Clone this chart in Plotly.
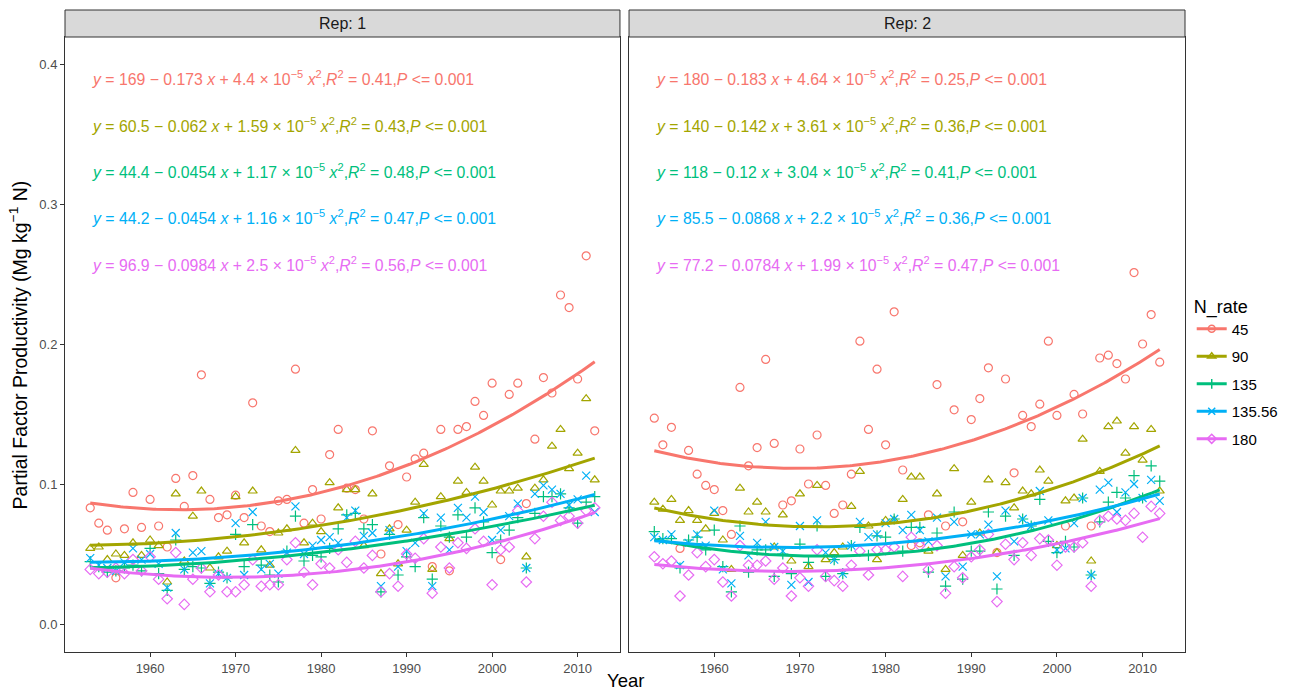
import numpy as np
import plotly.graph_objects as go

# ---- data -------------------------------------------------------------
years = list(range(1953, 2013))
n_rates = ["45", "90", "135", "135.56", "180"]
colors = ["#F8766D", "#A3A500", "#00BF7D", "#00B0F6", "#E76BF3"]
symbols = ["circle-open", "triangle-up-open", "cross-thin-open", "x-thin-open", "diamond-open"]

rep1_45 = [0.083, 0.072, 0.067, 0.033, 0.068, 0.094, 0.069, 0.089, 0.070, 0.055,
           0.104, 0.084, 0.106, 0.178, 0.089, 0.076, 0.078, 0.092, 0.076, 0.158,
           0.070, 0.066, 0.088, 0.089, 0.182, 0.072, 0.096, 0.075, 0.121, 0.139,
           0.097, 0.096, 0.075, 0.138, 0.050, 0.113, 0.071, 0.105, 0.118, 0.122,
           0.041, 0.139, 0.038, 0.139, 0.141, 0.159, 0.149, 0.172, 0.046, 0.164,
           0.172, 0.086, 0.132, 0.176, 0.165, 0.235, 0.226, 0.175, 0.263, 0.138]
rep1_90 = [0.054, 0.055, 0.046, 0.050, 0.049, 0.058, 0.049, 0.060, 0.056, 0.030,
           0.093, 0.045, 0.077, 0.095, 0.040, 0.048, 0.052, 0.091, 0.058, 0.095,
           0.053, 0.042, 0.065, 0.068, 0.124, 0.058, 0.072, 0.066, 0.101, 0.083,
           0.096, 0.096, 0.056, 0.093, 0.036, 0.068, 0.043, 0.067, 0.087, 0.114,
           0.039, 0.091, 0.061, 0.102, 0.094, 0.112, 0.102, 0.085, 0.095, 0.095,
           0.097, 0.048, 0.097, 0.103, 0.127, 0.139, 0.111, 0.122, 0.161, 0.103]
rep1_135 = [0.0445, 0.041, 0.037, 0.038, 0.040, 0.042, 0.038, 0.054, 0.036, 0.024,
            0.060, 0.039, 0.041, 0.040, 0.029, 0.037, 0.033, 0.064, 0.041, 0.071,
            0.042, 0.035, 0.030, 0.052, 0.077, 0.045, 0.049, 0.048, 0.054, 0.068,
            0.078, 0.079, 0.068, 0.071, 0.023, 0.064, 0.035, 0.048, 0.041, 0.076,
            0.032, 0.070, 0.062, 0.078, 0.062, 0.083, 0.073, 0.051, 0.060, 0.067,
            0.076, 0.040, 0.079, 0.091, 0.091, 0.093, 0.083, 0.072, 0.087, 0.091]
rep1_13556 = [0.047, 0.042, 0.040, 0.038, 0.044, 0.054, 0.046, 0.050, 0.043, 0.026,
              0.065, 0.039, 0.051, 0.052, 0.029, 0.036, 0.033, 0.072, 0.035, 0.080,
              0.039, 0.043, 0.036, 0.051, 0.084, 0.050, 0.056, 0.060, 0.062, 0.058,
              0.076, 0.081, 0.063, 0.065, 0.027, 0.067, 0.041, 0.052, 0.058, 0.079,
              0.027, 0.076, 0.053, 0.083, 0.076, 0.091, 0.080, 0.060, 0.067, 0.077,
              0.086, 0.040, 0.093, 0.099, 0.096, 0.093, 0.085, 0.089, 0.106, 0.080]
rep1_180 = [0.039, 0.036, 0.037, 0.040, 0.036, 0.046, 0.038, 0.048, 0.032, 0.018,
            0.051, 0.014, 0.032, 0.040, 0.023, 0.035, 0.023, 0.023, 0.028, 0.046,
            0.027, 0.028, 0.028, 0.046, 0.058, 0.037, 0.028, 0.043, 0.040, 0.053,
            0.044, 0.059, 0.040, 0.049, 0.023, 0.036, 0.027, 0.050, 0.047, 0.061,
            0.022, 0.055, 0.040, 0.058, 0.054, 0.068, 0.059, 0.028, 0.053, 0.055,
            0.081, 0.030, 0.061, 0.077, 0.087, 0.074, 0.077, 0.072, 0.081, 0.083]

rep2_45 = [0.147, 0.128, 0.1405, 0.054, 0.124, 0.107, 0.099, 0.096, 0.081, 0.064,
           0.169, 0.113, 0.126, 0.189, 0.129, 0.085, 0.088, 0.125, 0.100, 0.135,
           0.099, 0.079, 0.085, 0.107, 0.202, 0.139, 0.182, 0.128, 0.223, 0.110,
           0.056, 0.058, 0.078, 0.171, 0.070, 0.153, 0.073, 0.146, 0.161, 0.183,
           0.051, 0.175, 0.108, 0.149, 0.141, 0.157, 0.202, 0.149, 0.070, 0.164,
           0.150, 0.070, 0.190, 0.192, 0.186, 0.175, 0.251, 0.200, 0.221, 0.187]
rep2_90 = [0.087, 0.082, 0.089, 0.074, 0.081, 0.074, 0.068, 0.079, 0.060, 0.039,
           0.097, 0.080, 0.087, 0.080, 0.055, 0.078, 0.045, 0.093, 0.041, 0.099,
           0.046, 0.051, 0.055, 0.084, 0.109, 0.070, 0.046, 0.074, 0.074, 0.089,
           0.105, 0.105, 0.052, 0.093, 0.039, 0.111, 0.049, 0.087, 0.065, 0.103,
           0.051, 0.101, 0.083, 0.095, 0.093, 0.110, 0.102, 0.056, 0.088, 0.090,
           0.132, 0.045, 0.109, 0.141, 0.145, 0.122, 0.141, 0.117, 0.139, 0.095]
rep2_135 = [0.066, 0.061, 0.061, 0.040, 0.060, 0.062, 0.053, 0.067, 0.041, 0.023,
            0.070, 0.037, 0.053, 0.053, 0.034, 0.050, 0.036, 0.057, 0.044, 0.070,
            0.034, 0.046, 0.036, 0.056, 0.069, 0.049, 0.063, 0.062, 0.075, 0.052,
            0.069, 0.069, 0.037, 0.065, 0.027, 0.080, 0.032, 0.052, 0.052, 0.080,
            0.025, 0.077, 0.049, 0.075, 0.070, 0.089, 0.059, 0.051, 0.059, 0.055,
            0.090, 0.035, 0.073, 0.087, 0.094, 0.090, 0.106, 0.090, 0.113, 0.102]
rep2_13556 = [0.062, 0.060, 0.064, 0.042, 0.058, 0.064, 0.056, 0.081, 0.039, 0.029,
              0.063, 0.049, 0.058, 0.073, 0.055, 0.052, 0.028, 0.070, 0.030, 0.074,
              0.051, 0.046, 0.036, 0.056, 0.073, 0.062, 0.064, 0.072, 0.075, 0.067,
              0.078, 0.067, 0.059, 0.076, 0.034, 0.073, 0.041, 0.064, 0.064, 0.071,
              0.034, 0.081, 0.059, 0.075, 0.070, 0.095, 0.074, 0.053, 0.054, 0.072,
              0.090, 0.035, 0.096, 0.101, 0.080, 0.094, 0.100, 0.090, 0.103, 0.088]
rep2_180 = [0.048, 0.043, 0.045, 0.020, 0.035, 0.051, 0.041, 0.046, 0.030, 0.020,
            0.056, 0.042, 0.042, 0.045, 0.032, 0.040, 0.020, 0.033, 0.027, 0.053,
            0.034, 0.031, 0.027, 0.042, 0.052, 0.035, 0.053, 0.053, 0.055, 0.034,
            0.062, 0.056, 0.039, 0.056, 0.022, 0.041, 0.033, 0.048, 0.053, 0.064,
            0.016, 0.057, 0.046, 0.058, 0.049, 0.061, 0.060, 0.042, 0.055, 0.055,
            0.058, 0.027, 0.074, 0.077, 0.075, 0.074, 0.079, 0.062, 0.084, 0.079]

rep1_series = [rep1_45, rep1_90, rep1_135, rep1_13556, rep1_180]
rep2_series = [rep2_45, rep2_90, rep2_135, rep2_13556, rep2_180]

rep1_eq = [
    ("169", "0.173", "4.4", "0.41"),
    ("60.5", "0.062", "1.59", "0.43"),
    ("44.4", "0.0454", "1.17", "0.48"),
    ("44.2", "0.0454", "1.16", "0.47"),
    ("96.9", "0.0984", "2.5", "0.56"),
]
rep2_eq = [
    ("180", "0.183", "4.64", "0.25"),
    ("140", "0.142", "3.61", "0.36"),
    ("118", "0.12", "3.04", "0.41"),
    ("85.5", "0.0868", "2.2", "0.36"),
    ("77.2", "0.0784", "1.99", "0.47"),
]
eq_y = [0.390, 0.3565, 0.3235, 0.2905, 0.257]

FONT = "Liberation Sans"

# ---- figure -------------------------------------------------------------
fig = go.Figure()
panels = [("x", "y", rep1_series, rep1_eq), ("x2", "y2", rep2_series, rep2_eq)]
yr = np.array(years, dtype=float)
xs = np.linspace(yr.min(), yr.max(), 200)

for xa, ya, series, eqs in panels:
    for i, vals in enumerate(series):
        c = colors[i]
        fig.add_trace(go.Scatter(
            x=years, y=vals, mode="markers", xaxis=xa, yaxis=ya, showlegend=False,
            marker=dict(symbol=symbols[i], color=c, size=8,
                        line=dict(color=c, width=1.2)),
            hoverinfo="skip"))
    for i, vals in enumerate(series):
        # quadratic least-squares trend per N rate
        coef = np.polyfit(yr - 1982.5, np.array(vals), 2)
        fig.add_trace(go.Scatter(
            x=xs, y=np.polyval(coef, xs - 1982.5), mode="lines", xaxis=xa, yaxis=ya,
            showlegend=False, line=dict(color=colors[i], width=3), hoverinfo="skip"))
    for i, (b0, b1, b2, r2) in enumerate(eqs):
        txt = (f"<i>y</i> = {b0} \u2212 {b1} <i>x</i> + {b2} \u00d7 10<sup>\u22125</sup> "
               f"<i>x</i><sup>2</sup>,<i>R</i><sup>2</sup> = {r2},<i>P</i> &lt;= 0.001")
        fig.add_annotation(x=1953, y=eq_y[i], xref=xa, yref=ya, text=txt,
                           showarrow=False, xanchor="left", yanchor="middle",
                           font=dict(color=colors[i], size=15.8, family=FONT))

# legend keys
for i, name in enumerate(n_rates):
    fig.add_trace(go.Scatter(
        x=[None], y=[None], mode="lines+markers", name=name, legendgroup=name,
        line=dict(color=colors[i], width=3),
        marker=dict(symbol=symbols[i], color=colors[i], size=7,
                    line=dict(color=colors[i], width=1.5))))

axis_common = dict(showline=True, mirror=True, linecolor="#333333", linewidth=1,
                   showgrid=False, zeroline=False, ticklen=4, tickcolor="#333333",
                   tickfont=dict(size=13, color="#4D4D4D", family=FONT))
xr = [1950.05, 2014.95]
yrng = [-0.02, 0.4193]
xticks = [1960, 1970, 1980, 1990, 2000, 2010]
yticks = [0, 0.1, 0.2, 0.3, 0.4]
fig.update_layout(
    width=1289, height=692,
    margin=dict(l=65, r=104, t=37, b=40, autoexpand=False),
    plot_bgcolor="white", paper_bgcolor="white",
    font=dict(family=FONT, color="#000000"),
    xaxis=dict(domain=[0, 0.4955], range=xr, tickvals=xticks, anchor="y",
               ticks="outside", **axis_common),
    xaxis2=dict(domain=[0.5036, 1], range=xr, tickvals=xticks, anchor="y2",
                ticks="outside", **axis_common),
    yaxis=dict(range=yrng, tickvals=yticks, tickformat=".1f", anchor="x",
               ticks="outside", **axis_common),
    yaxis2=dict(range=yrng, anchor="x2", tickvals=yticks, showticklabels=False,
                ticks="", **axis_common),
    legend=dict(x=1.006, y=0.455, xanchor="left", yanchor="middle",
                title=dict(text="N_rate", font=dict(size=18, color="#000000")),
                font=dict(size=15, color="#000000"), itemwidth=30,
                tracegroupgap=5, traceorder="grouped",
                bgcolor="rgba(0,0,0,0)"),
    showlegend=True,
)

# facet strips
strip_h = 27 / 615
for (x0, x1, label) in [(0, 0.4955, "Rep: 1"), (0.5036, 1, "Rep: 2")]:
    fig.add_shape(type="rect", xref="paper", yref="paper", x0=x0, x1=x1,
                  y0=1.0, y1=1.0 + strip_h, fillcolor="#D9D9D9",
                  line=dict(color="#333333", width=1))
    fig.add_annotation(xref="paper", yref="paper", x=(x0 + x1) / 2, y=1.0 + strip_h / 2,
                       text=label, showarrow=False, xanchor="center", yanchor="middle",
                       font=dict(size=16, color="#1A1A1A"))

fig.add_annotation(xref="paper", yref="paper", x=-0.042, y=0.5,
                   text="Partial Factor Productivity (Mg kg<sup>\u22121</sup> N)",
                   textangle=-90, showarrow=False, xanchor="center", yanchor="middle",
                   font=dict(size=19.5, color="#000000"))
fig.add_annotation(xref="paper", yref="paper", x=0.5, y=-0.046,
                   text="Year", showarrow=False, xanchor="center", yanchor="middle",
                   font=dict(size=18.5, color="#000000"))

fig.write_html("out.html")
